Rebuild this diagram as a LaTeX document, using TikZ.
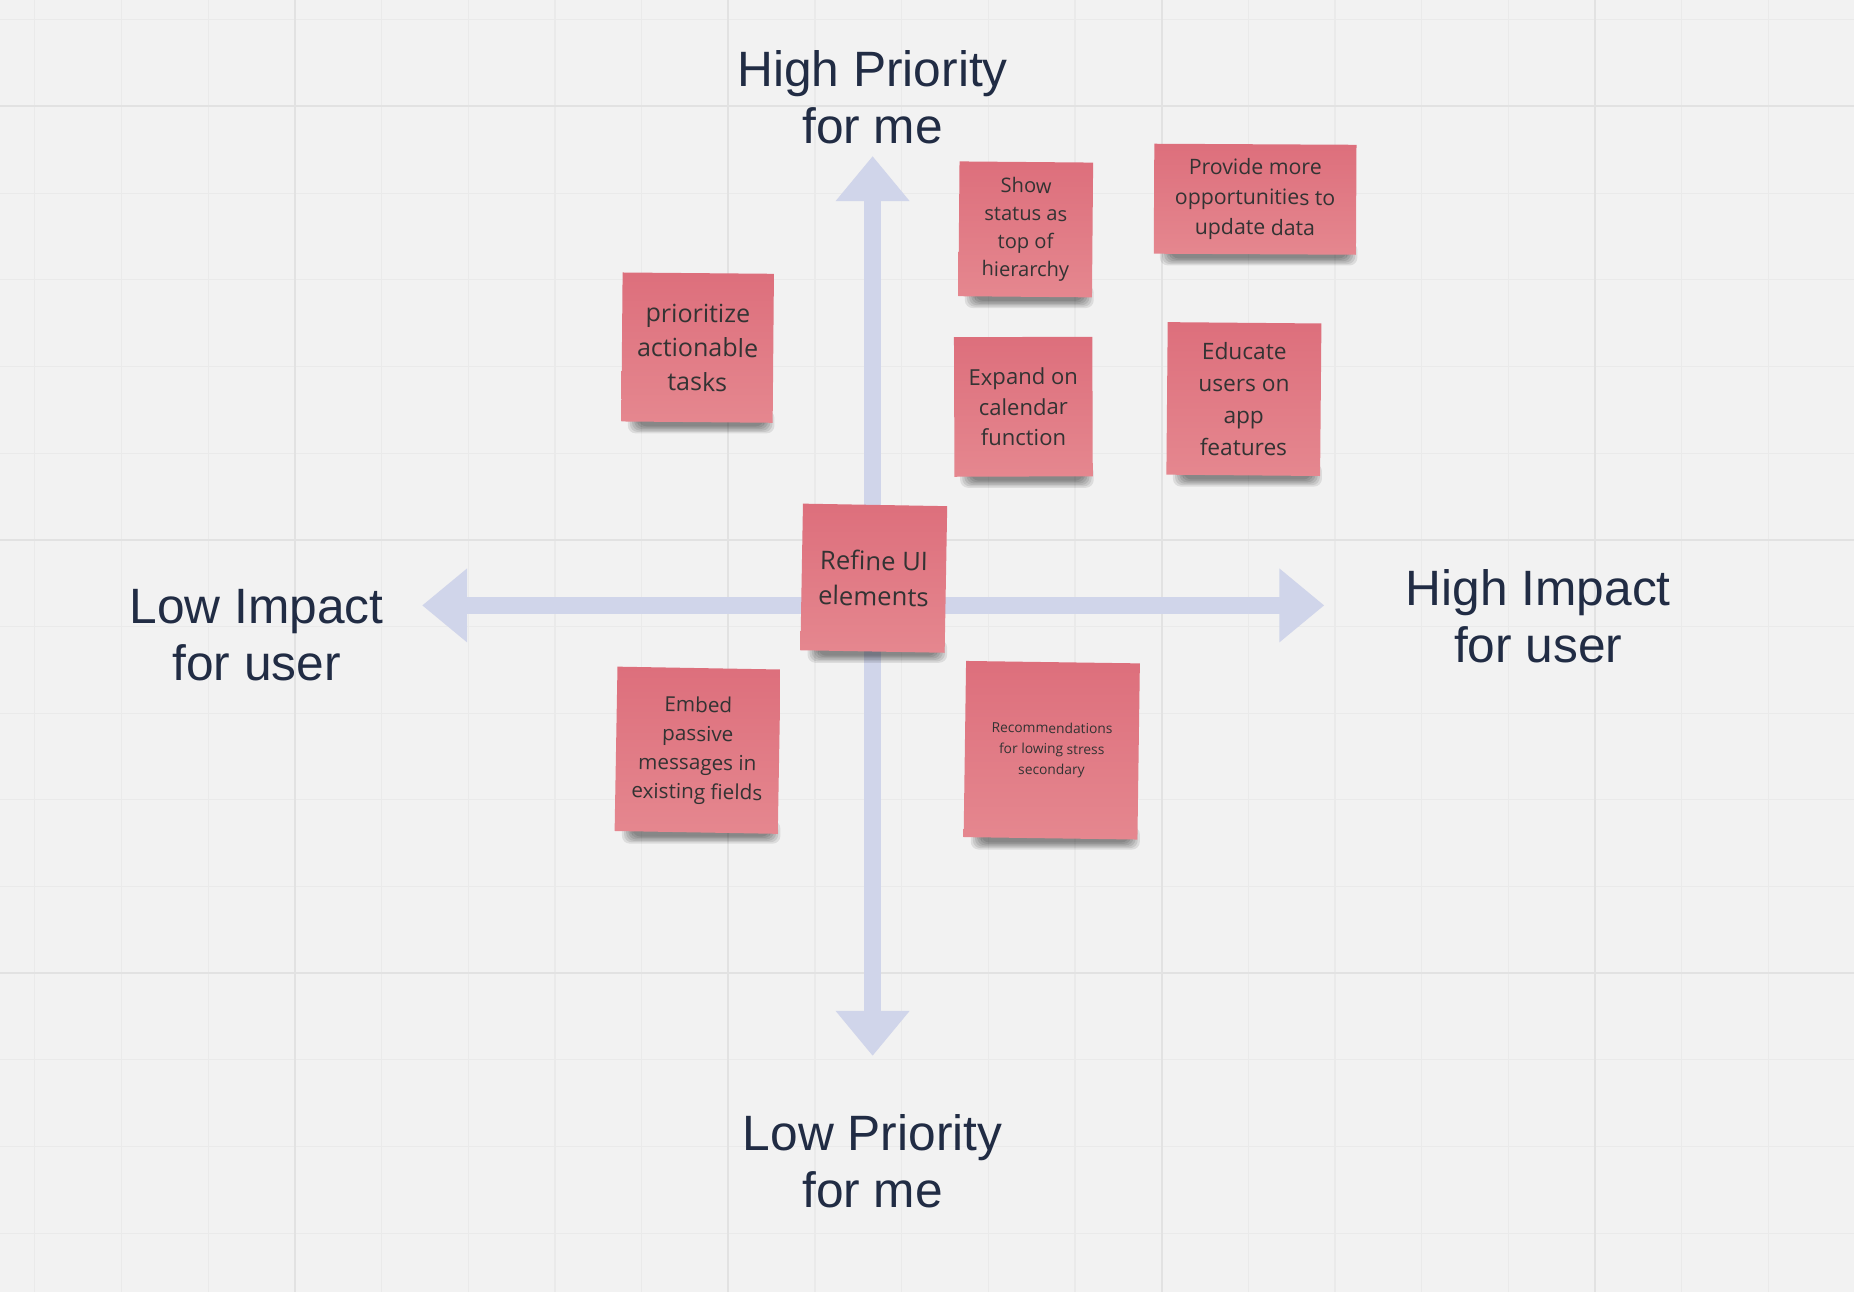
\documentclass[tikz,border=0pt]{standalone}
\usepackage{fontspec}
\setmainfont{Liberation Sans}
\newfontfamily\notefont{Open Sans}
\usetikzlibrary{arrows.meta}
\definecolor{bgcol}{HTML}{F2F2F2}
\definecolor{minorcol}{HTML}{EAEAEA}
\definecolor{majorcol}{HTML}{E2E2E2}
\definecolor{axiscol}{HTML}{D0D5EA}
\definecolor{labelcol}{HTML}{212C44}
\definecolor{notetop}{HTML}{DD6F7C}
\definecolor{notebot}{HTML}{E5878F}
\definecolor{notetext}{HTML}{333333}
\tikzset{
  sticky/.style={rectangle, inner sep=0pt, top color=notetop, bottom color=notebot,
    draw=none, align=center, text=notetext},
  axislabel/.style={align=center, text=labelcol, inner sep=0pt,
    font=\fontsize{25.2pt}{28.8pt}\selectfont},
  axisarrow/.style={draw=axiscol, line width=9pt,
    {Triangle[width=36pt,length=22.8pt]}-{Triangle[width=36pt,length=22.8pt]}},
  shadowlayer/.style={fill=black, opacity=0.09, rounded corners=4pt}
}
% name, cx, cy, w, h, rot, fontsize, skip, text
\newcommand\stickynote[9]{%
  \foreach \i in {0,...,5} {
    \path[shadowlayer] ({#2-#4/2+14-1.8*\i},{#3+#5/2-4-1.2*\i})
      rectangle ({#2+#4/2-8+1.8*\i},{#3+#5/2+3.5+1.2*\i});
  }
  \node[sticky, minimum width=#4*0.6pt, minimum height=#5*0.6pt, rotate=#6,
    font={\notefont\fontsize{#7}{#8}\selectfont}] (#1) at (#2,#3) {#9};
}
\begin{document}
\begin{tikzpicture}[x=0.6pt,y=-0.6pt]
\useasboundingbox (0,0) rectangle (1568,1093);
\fill[bgcol] (0,0) rectangle (1568,1093);
% grid
\foreach \k in {0,...,21} {
  \draw[minorcol, line width=0.6pt] ({29.5+73.3*\k},0) -- ({29.5+73.3*\k},1093);
}
\foreach \k in {0,...,14} {
  \draw[minorcol, line width=0.6pt] (0,{16.7+73.3*\k}) -- (1568,{16.7+73.3*\k});
}
\foreach \k in {3,8,13,18} {
  \draw[majorcol, line width=1pt] ({29.5+73.3*\k},0) -- ({29.5+73.3*\k},1093);
}
\foreach \k in {1,6,11} {
  \draw[majorcol, line width=1pt] (0,{16.7+73.3*\k}) -- (1568,{16.7+73.3*\k});
}
% axes
\coordinate (ytop) at (738,132);
\coordinate (ybot) at (738,893);
\coordinate (xleft) at (357,512);
\coordinate (xright) at (1120,512);
\draw[axisarrow] (xleft) -- (xright);
\draw[axisarrow] (ybot) -- (ytop);
% labels
\node[axislabel] (hp) at (738,82) {High Priority\\for me};
\node[axislabel] (lp) at (738,982) {Low Priority\\for me};
\node[axislabel] (li) at (217,537) {Low Impact\\for user};
\node[axislabel] (hi) at (1301,521) {High Impact\\for user};
% sticky notes
\stickynote{n1}{867.5}{194}{113}{114}{-0.5}{10.2pt}{14.1pt}{Show\\status as\\top of\\hierarchy}
\stickynote{n2}{1061.5}{168.5}{171}{93}{-0.3}{10.8pt}{15.3pt}{Provide more\\opportunities to\\update data}
\stickynote{n3}{590}{294}{128}{126}{-0.5}{12.7pt}{17.4pt}{prioritize\\actionable\\tasks}
\stickynote{n4}{865.5}{344}{117}{118}{0.2}{11.2pt}{15.3pt}{Expand on\\calendar\\function}
\stickynote{n5}{1052}{337.5}{130}{129}{-0.5}{11.5pt}{16.2pt}{Educate\\users on\\app\\features}
\stickynote{n6}{739}{489}{122}{124}{-1}{13pt}{18pt}{Refine UI\\elements}
\stickynote{n7}{590}{634.5}{138}{139}{-1}{10.5pt}{14.7pt}{Embed\\passive\\messages in\\existing fields}
\stickynote{n8}{889.5}{634.5}{147}{149}{-0.8}{7pt}{10.5pt}{Recommendations\\for lowing stress\\secondary}
\end{tikzpicture}
\end{document}
